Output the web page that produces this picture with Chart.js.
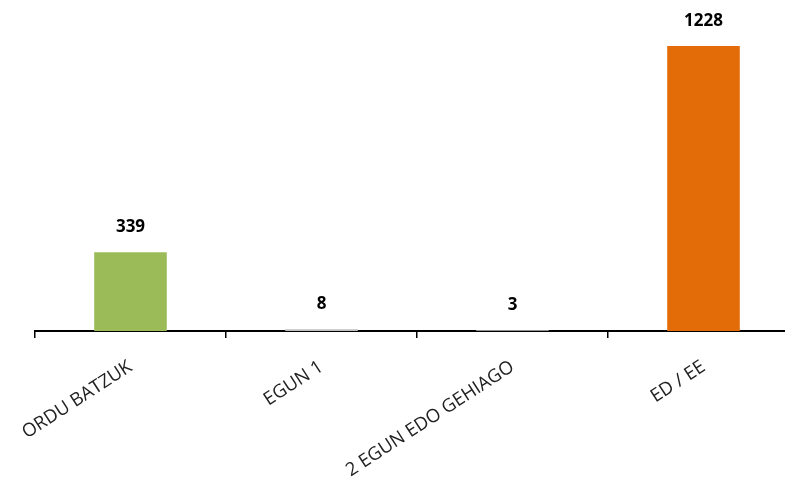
<!DOCTYPE html>
<html>
<head>
<meta charset="utf-8">
<script src="https://cdn.jsdelivr.net/npm/chart.js@4/dist/chart.umd.min.js"></script>
<style>
  html, body { margin: 0; padding: 0; background: #fff; overflow: hidden; }
  #wrap { width: 785px; height: 482px; overflow: hidden; }
</style>
</head>
<body>
<div id="wrap"><canvas id="grafikoa" width="800" height="482"></canvas></div>
<script>
// Datuak
const kategoriak = ['ORDU BATZUK', 'EGUN 1', '2 EGUN EDO GEHIAGO', 'ED / EE'];
const balioak = [339, 8, 3, 1228];
const koloreak = ['#9BBB59', '#BFBFBF', '#BFBFBF', '#E36C09'];

// Barren gainean balioa idazteko plugina
const balioEtiketak = {
    id: 'balioEtiketak',
    afterDatasetsDraw(chart) {
        const ctx = chart.ctx;
        const meta = chart.getDatasetMeta(0);
        ctx.save();
        ctx.font = 'bold 17px "Open Sans", sans-serif';
        ctx.fillStyle = '#000';
        ctx.textAlign = 'center';
        ctx.textBaseline = 'middle';
        meta.data.forEach((bar, i) => {
            ctx.fillText(balioak[i], bar.x, bar.y - 25);
        });
        ctx.restore();
    }
};

const ctx = document.getElementById('grafikoa').getContext('2d');

new Chart(ctx, {
    type: 'bar',
    data: {
        labels: kategoriak,
        datasets: [{
            data: balioak,
            backgroundColor: koloreak,
            borderWidth: 0,
            categoryPercentage: 1,
            barPercentage: 0.38
        }]
    },
    options: {
        responsive: false,
        animation: false,
        layout: { padding: { left: 35, right: 1, top: 0, bottom: 0 } },
        plugins: {
            legend: { display: false },
            tooltip: { enabled: false }
        },
        scales: {
            x: {
                grid: {
                    offset: true,
                    drawOnChartArea: false,
                    drawTicks: true,
                    tickLength: 7,
                    color: '#000',
                    lineWidth: 1.5
                },
                border: { display: true, color: '#000', width: 2 },
                ticks: {
                    minRotation: 33,
                    maxRotation: 33,
                    padding: 18,
                    color: '#222',
                    font: { family: '"Open Sans", sans-serif', size: 18.5 }
                },
                afterFit(scale) { scale.height = 151; }
            },
            y: {
                display: false,
                min: 0,
                max: 1426
            }
        }
    },
    plugins: [balioEtiketak]
});
</script>
</body>
</html>
